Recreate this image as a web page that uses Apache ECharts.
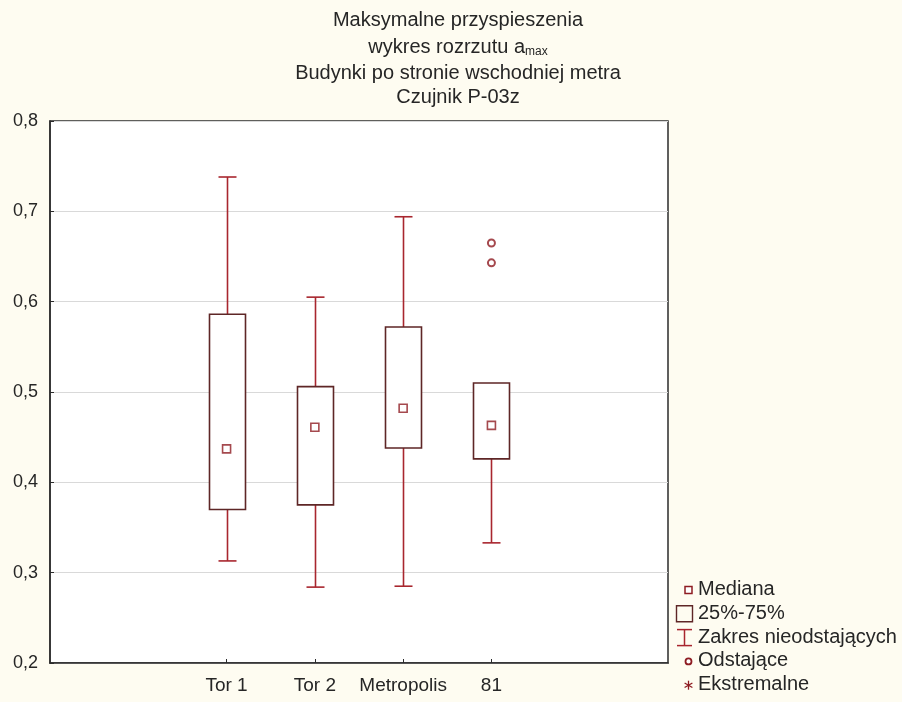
<!DOCTYPE html>
<html>
<head>
<meta charset="utf-8">
<script src="https://cdn.jsdelivr.net/npm/echarts@6/dist/echarts.min.js"></script>
<style>
html,body{margin:0;padding:0;background:#fefcf1;}
#c{width:902px;height:702px;}
</style>
</head>
<body>
<div id="c"></div>
<script>
// ---- data ----
const categories = ['Tor 1', 'Tor 2', 'Metropolis', '81'];
const whiskerLow  = [0.313, 0.284, 0.285, 0.333];
const q1Values    = [0.370, 0.375, 0.438, 0.426];
const medianVals  = [0.437, 0.461, 0.482, 0.463];
const q3Values    = [0.586, 0.506, 0.572, 0.510];
const whiskerHigh = [0.738, 0.605, 0.694, 0.510];
const outlierCats = ['81', '81'];
const outlierVals = [0.665, 0.643];
const yTicks = [0.2, 0.3, 0.4, 0.5, 0.6, 0.7, 0.8];
const titleLines = ['Maksymalne przyspieszenia', 'wykres rozrzutu a', 'Budynki po stronie wschodniej metra', 'Czujnik P-03z'];
const legendNames = ['Mediana', '25%-75%', 'Zakres nieodstających', 'Odstające', 'Ekstremalne'];

// ---- styling ----
const FONT = '"Liberation Sans", Arial, sans-serif';
const BOX_COLOR = '#5e2626';
const WHISKER_COLOR = '#a8262e';
const MED_COLOR = '#8e1c22';
const TEXT = '#262626';

const xCats = ['', ' '].concat(categories).concat(['  ', '   ']);

const chart = echarts.init(document.getElementById('c'), null, {renderer: 'canvas'});

function renderBox(params, api) {
  const x = api.value(0);
  const lo = api.coord([x, api.value(1)]);
  const b1 = api.coord([x, api.value(2)]);
  const b3 = api.coord([x, api.value(3)]);
  const hi = api.coord([x, api.value(4)]);
  const cx = Math.round(lo[0]) + 0.5;
  const bw = 36, cw = 18;
  const wl = {stroke: WHISKER_COLOR, lineWidth: 1.6};
  const children = [];
  if (hi[1] < b3[1] - 0.5) {
    children.push({type: 'line', shape: {x1: cx, y1: hi[1], x2: cx, y2: b3[1]}, style: wl});
    children.push({type: 'line', shape: {x1: cx - cw / 2, y1: hi[1], x2: cx + cw / 2, y2: hi[1]}, style: wl});
  }
  children.push({type: 'line', shape: {x1: cx, y1: b1[1], x2: cx, y2: lo[1]}, style: wl});
  children.push({type: 'line', shape: {x1: cx - cw / 2, y1: lo[1], x2: cx + cw / 2, y2: lo[1]}, style: wl});
  children.push({type: 'rect', shape: {x: cx - bw / 2, y: b3[1], width: bw, height: b1[1] - b3[1]},
    style: {fill: '#fff', stroke: BOX_COLOR, lineWidth: 1.6}});
  return {type: 'group', children: children};
}

// legend (drawn as graphics)
const LX = 698, LY0 = 590, LSTEP = 23.8;
const legendGraphics = [];
legendNames.forEach((n, i) => {
  legendGraphics.push({type: 'text', left: LX, top: LY0 + i * LSTEP - 10.5,
    style: {text: n, fill: TEXT, font: '20px ' + FONT}});
});
const ly = i => LY0 + i * LSTEP;
legendGraphics.push(
  {type: 'rect', shape: {x: 685, y: ly(0) - 3.5, width: 7, height: 7}, style: {fill: '#fff', stroke: MED_COLOR, lineWidth: 1.5}},
  {type: 'rect', shape: {x: 676.5, y: ly(1) - 8, width: 16, height: 16}, style: {fill: 'none', stroke: BOX_COLOR, lineWidth: 1.4}},
  {type: 'line', shape: {x1: 684.5, y1: ly(2) - 8, x2: 684.5, y2: ly(2) + 8}, style: {stroke: WHISKER_COLOR, lineWidth: 1.5}},
  {type: 'line', shape: {x1: 677, y1: ly(2) - 8, x2: 692, y2: ly(2) - 8}, style: {stroke: WHISKER_COLOR, lineWidth: 1.5}},
  {type: 'line', shape: {x1: 677, y1: ly(2) + 8, x2: 692, y2: ly(2) + 8}, style: {stroke: WHISKER_COLOR, lineWidth: 1.5}},
  {type: 'circle', shape: {cx: 688.5, cy: ly(3), r: 3}, style: {fill: '#fff', stroke: MED_COLOR, lineWidth: 1.8}},
  {type: 'line', shape: {x1: 688.5, y1: ly(4) - 4.5, x2: 688.5, y2: ly(4) + 4.5}, style: {stroke: MED_COLOR, lineWidth: 1.3}},
  {type: 'line', shape: {x1: 684.6, y1: ly(4) - 2.25, x2: 692.4, y2: ly(4) + 2.25}, style: {stroke: MED_COLOR, lineWidth: 1.3}},
  {type: 'line', shape: {x1: 684.6, y1: ly(4) + 2.25, x2: 692.4, y2: ly(4) - 2.25}, style: {stroke: MED_COLOR, lineWidth: 1.3}}
);

const titleStyle = {fontSize: 20, fontWeight: 'normal', color: TEXT, fontFamily: FONT};
const titleCenters = [21, 47, 74, 98];

const option = {
  backgroundColor: '#fefcf1',
  animation: false,
  title: titleLines.map((t, i) => ({
    text: i === 1 ? '{m|' + t + '}{s|max}' : t,
    left: 458, top: titleCenters[i] - 11, textAlign: 'center', padding: 0,
    textStyle: Object.assign({}, titleStyle, i === 1 ? {rich: {
      m: {fontSize: 20, color: TEXT, fontFamily: FONT, lineHeight: 22},
      s: {fontSize: 12, color: TEXT, fontFamily: FONT, lineHeight: 22, padding: [12, 0, 0, 0], verticalAlign: 'bottom'}
    }} : {})
  })),
  grid: {left: 50, right: 234, top: 121, bottom: 39, show: true, backgroundColor: '#ffffff',
    borderColor: '#2b2b2b', borderWidth: 1.5},
  xAxis: {
    type: 'category', data: xCats, boundaryGap: false,
    axisLine: {show: true, lineStyle: {color: '#2b2b2b', width: 1.5}},
    axisTick: {show: true, inside: true, length: 4, lineStyle: {color: '#2b2b2b'},
      interval: (idx, val) => categories.indexOf(val) >= 0},
    axisLabel: {color: TEXT, fontSize: 19, fontFamily: FONT, margin: 13, interval: 0},
    splitLine: {show: false}
  },
  yAxis: {
    type: 'value', min: yTicks[0], max: yTicks[yTicks.length - 1], interval: 0.1,
    axisLine: {show: true, lineStyle: {color: '#2b2b2b', width: 1.5}},
    axisTick: {show: true, inside: true, length: 4, lineStyle: {color: '#2b2b2b'}},
    axisLabel: {color: TEXT, fontSize: 18, fontFamily: FONT, margin: 12,
      formatter: v => v.toFixed(1).replace('.', ',')},
    splitLine: {show: true, lineStyle: {color: '#d9d9d9', width: 1}}
  },
  series: [
    {
      name: '25%-75%', type: 'custom', renderItem: renderBox, z: 2,
      encode: {x: 0, y: [1, 2, 3, 4]},
      data: categories.map((c, i) => [c, whiskerLow[i], q1Values[i], q3Values[i], whiskerHigh[i]])
    },
    {
      name: 'Mediana', type: 'scatter', symbol: 'rect', symbolSize: 8, z: 3,
      itemStyle: {color: '#fff', borderColor: MED_COLOR, borderWidth: 1.6},
      data: categories.map((c, i) => [c, medianVals[i]])
    },
    {
      name: 'Odstające', type: 'scatter', symbol: 'circle', symbolSize: 7, z: 3,
      itemStyle: {color: '#fff', borderColor: MED_COLOR, borderWidth: 2},
      data: outlierCats.map((c, i) => [c, outlierVals[i]])
    }
  ],
  graphic: legendGraphics
};
chart.setOption(option);
</script>
</body>
</html>
